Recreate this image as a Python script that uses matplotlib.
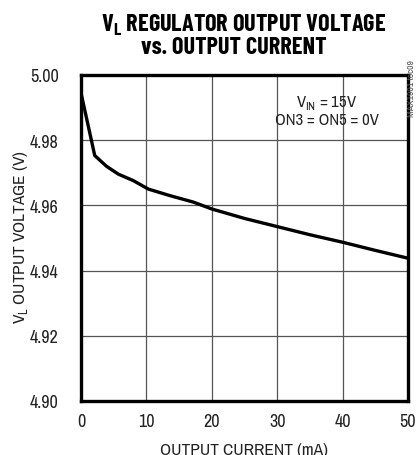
import matplotlib
matplotlib.use("Agg")
import matplotlib.pyplot as plt

# Data
current_ma = [0, 2.1, 3.9, 5.7, 8.0, 10.3, 13.6, 17.2, 20, 25, 30, 35, 40, 45, 50]
voltage_v = [4.9945, 4.9753, 4.9720, 4.9696, 4.9676, 4.9650, 4.9630, 4.9610,
             4.9589, 4.9560, 4.9535, 4.9510, 4.9487, 4.9462, 4.9438]
x_ticks = [0, 10, 20, 30, 40, 50]
y_ticks = [4.90, 4.92, 4.94, 4.96, 4.98, 5.00]

narrow = ["Archivo Narrow", "DejaVu Sans"]
titlef = ["Barlow Condensed", "DejaVu Sans"]
plt.rcParams['font.family'] = narrow
plt.rcParams['mathtext.fontset'] = 'custom'
plt.rcParams['mathtext.rm'] = 'Archivo Narrow'
plt.rcParams['mathtext.bf'] = 'Barlow Condensed:bold'

fig = plt.figure(figsize=(4.17, 4.56), dpi=100)
ax = fig.add_axes([81/417, 1-402/456, 327/417, 326/456])

ax.plot(current_ma, voltage_v, color='black', lw=2.4, solid_joinstyle='round')
ax.set_xlim(0, 50)
ax.set_ylim(4.90, 5.00)
ax.set_xticks(x_ticks)
ax.set_yticks(y_ticks)
ax.set_xticklabels([str(v) for v in x_ticks])
ax.set_yticklabels([f"{v:.2f}" for v in y_ticks])
ax.tick_params(length=0, labelsize=13, colors='#222222')
ax.tick_params(axis='y', pad=16)
ax.tick_params(axis='x', pad=9)
ax.grid(True, color='#555555', lw=0.9)
for s in ax.spines.values():
    s.set_linewidth(2.4)
    s.set_color('black')

ax.set_xlabel('OUTPUT CURRENT (mA)', fontsize=12.5, color='#222222', labelpad=9)
ax.set_ylabel(r'V$_\mathregular{L}$ OUTPUT VOLTAGE (V)', fontsize=12.5, color='#222222')
ax.yaxis.set_label_coords((30 - 81) / 327, 0.505)

fig.text(244/417, 1-25/456, r'V$_\mathbf{L}$ REGULATOR OUTPUT VOLTAGE', ha='center', va='center',
         fontsize=17.5, fontweight='bold', family=titlef)
fig.text(234/417, 1-48/456, 'vs. OUTPUT CURRENT', ha='center', va='center',
         fontsize=17.5, fontweight='bold', family=titlef)

ax.text(37.6, 4.9917, r'V$_\mathregular{IN}$ = 15V', ha='center', va='center', fontsize=12, color='#222222')
ax.text(37.6, 4.9865, 'ON3 = ON5 = 0V', ha='center', va='center', fontsize=12, color='#222222')

fig.text(412/417, 1-60/456, 'MAX1901 toc09', rotation=90, ha='center', va='top',
         fontsize=7, color='#555555')

fig.savefig('out.png', dpi=100)
